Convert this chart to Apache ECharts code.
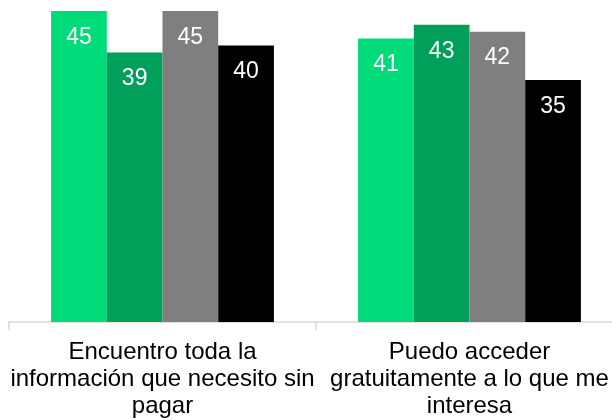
<!DOCTYPE html>
<html>
<head>
<meta charset="utf-8">
<style>
  html, body { margin: 0; padding: 0; background: #ffffff; overflow: hidden; }
  /* the plot continues past the right edge of the window, so the canvas is wider */
  #chart { width: 640px; height: 420px; }
</style>
<script src="https://cdn.jsdelivr.net/npm/echarts@6/dist/echarts.min.js"></script>
</head>
<body>
<div id="chart"></div>
<script>
// Categories (line breaks as shown under the axis)
const categories = [
  'Encuentro toda la\ninformación que necesito sin\npagar',
  'Puedo acceder\ngratuitamente a lo que me\ninteresa'
];

// Four series, one value per category
const serie1 = [45, 41];
const serie2 = [39, 43];
const serie3 = [45, 42];
const serie4 = [40, 35];

const seriesValues = [serie1, serie2, serie3, serie4];
const seriesColors = ['#00DA78', '#009F5A', '#7F7F7F', '#000000'];

const FONT = '"Liberation Sans", Arial, sans-serif';

const chart = echarts.init(document.getElementById('chart'), null, { renderer: 'canvas' });

chart.setOption({
  animation: false,
  backgroundColor: '#ffffff',
  grid: { left: 9, top: 4, right: 17, bottom: 96, containLabel: false },
  xAxis: {
    type: 'category',
    data: categories,
    axisLine: { show: true, lineStyle: { color: '#D9D9D9', width: 1.5 } },
    axisTick: { show: true, length: 8, lineStyle: { color: '#D9D9D9', width: 1.5 } },
    axisLabel: {
      interval: 0,
      margin: 17,
      color: '#000000',
      fontFamily: FONT,
      fontSize: 24,
      lineHeight: 27,
      align: 'center'
    }
  },
  yAxis: {
    type: 'value',
    min: 0,
    max: 46,
    show: false,
    splitLine: { show: false }
  },
  series: seriesValues.map((vals, i) => ({
    type: 'bar',
    data: vals,
    barWidth: 55.7,
    barGap: '0%',
    itemStyle: { color: seriesColors[i] },
    label: {
      show: true,
      position: 'insideTop',
      distance: 15,
      color: '#ffffff',
      fontFamily: FONT,
      fontSize: 23
    }
  }))
});
</script>
</body>
</html>
